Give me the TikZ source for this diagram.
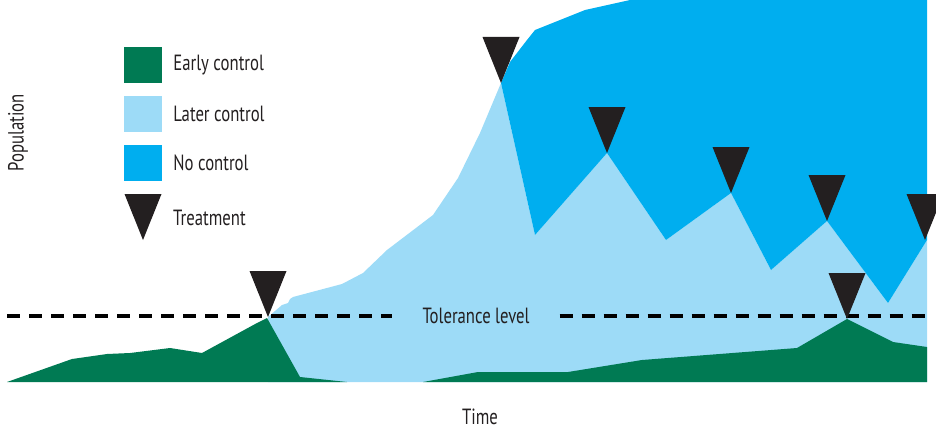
\documentclass[tikz,border=0pt]{standalone}
\usepackage{fontspec}
\setmainfont{PT Sans}[FakeStretch=0.76]
\usetikzlibrary{positioning}
\definecolor{earlygreen}{RGB}{0,122,83}
\definecolor{latersky}{RGB}{157,219,247}
\definecolor{nocyan}{RGB}{0,174,239}
\definecolor{treatblack}{RGB}{35,31,32}
\tikzset{%
  % Fills of the three population curves
      early/.style = {fill=earlygreen},
      later/.style = {fill=latersky},
  nocontrol/.style = {fill=nocyan},
  % Legend swatches and texts
     swatch/.style = {rectangle, minimum width=38pt, minimum height=36pt,
                      inner sep=0pt},
  legendtext/.style = {font=\fontsize{22}{22}\selectfont, text=treatblack,
                      anchor=west, inner sep=0pt},
    tolline/.style = {line width=4.5pt, dash pattern=on 13pt off 9pt},
  treatment/.pic = {\fill[treatblack] (-18.5,-46) -- (18.5,-46) -- (0,0) -- cycle;},
}

\begin{document}
\begin{tikzpicture}[x=1pt, y=-1pt]
  \useasboundingbox (0,0) rectangle (936,428);
  \clip (0,0) rectangle (936,428);

  % Population curves
  \fill[later] (268,317) -- (282,305) -- (288,303) -- (290,299) -- (293,297)
    -- (342,284) -- (363,273) -- (387,250) -- (433,215) -- (458,178)
    -- (480,133) -- (501,83) -- (535,235) -- (607,153) -- (666,240)
    -- (731,193) -- (771,270) -- (827,221) -- (888,303) -- (927,240)
    -- (927,382) -- (268,382) -- cycle;
  \fill[nocontrol] (501,83) -- (510,62) -- (527,40) -- (535,30) -- (585,10)
    -- (630,0) -- (650,-10) -- (927,-10) -- (927,240) -- (888,303)
    -- (827,221) -- (771,270) -- (731,193) -- (666,240) -- (607,153)
    -- (535,235) -- cycle;
  \fill[early] (7,382) -- (72,359) -- (107,354) -- (130,353) -- (170,348)
    -- (202,353) -- (257,323) -- (267,318) -- (300,377) -- (347,382) -- cycle;
  \fill[early] (423,382) -- (478,372) -- (568,372) -- (642,360) -- (797,348)
    -- (847,319) -- (893,342) -- (927,347) -- (927,382) -- cycle;

  % Tolerance level
  \coordinate (tolstart) at (7,316);
  \coordinate (tolend) at (927,316);
  \node (tolerance) [legendtext, anchor=center, inner xsep=30pt] at (476,316)
    {Tolerance level};
  \draw[tolline] (tolstart) -- (tolerance.west);
  \draw[tolline] (tolerance.east) -- (tolend);

  % Treatments
  \foreach \tx/\ty in {268/317, 501/83, 607/153, 731/193, 827/221, 925/240, 847/319}
    \pic at (\tx,\ty) {treatment};

  % Legend
  \node (earlybox) [swatch, early] at (143,65) {};
  \node (laterbox) [swatch, later, below=12.5pt of earlybox] {};
  \node (nobox) [swatch, nocontrol, below=12.5pt of laterbox] {};
  \pic at (143,240) {treatment};
  \coordinate (treatkey) at (143,218);
  \node (earlylbl) [legendtext, right=11pt of earlybox] {Early control};
  \node (laterlbl) [legendtext, right=11pt of laterbox] {Later control};
  \node (nolbl) [legendtext, right=11pt of nobox] {No control};
  \node (treatlbl) [legendtext, right=30pt of treatkey] {Treatment};

  % Axes
  \node (ylabel) [legendtext, anchor=center, rotate=90] at (18,133) {Population};
  \node (xlabel) [legendtext, anchor=center] at (480,417) {Time};
\end{tikzpicture}
\end{document}
